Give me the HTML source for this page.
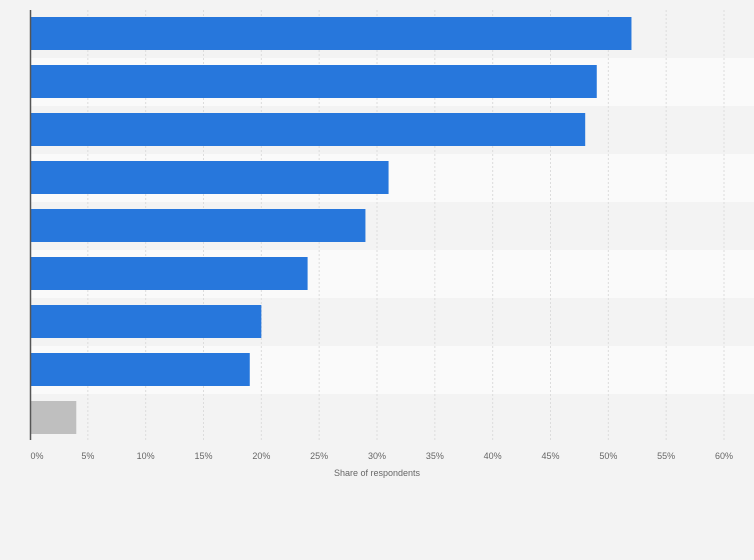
<!DOCTYPE html>
<html><head><meta charset="utf-8"><style>
body{margin:0;background:#f3f3f3;font-family:"Liberation Sans",sans-serif}
svg{display:block}
</style></head><body>
<svg width="754" height="560">
<g id="bands"></g><g id="grid"></g><g id="bars"></g><g id="ticks"></g>
<line x1="30.5" y1="10" x2="30.5" y2="440" stroke="#555" stroke-width="1.5"/>
<text x="377" y="476" text-anchor="middle" font-size="9" fill="#666">Share of respondents</text>
</svg>
<script>
const values=[52,49,48,31,29,24,20,19,4];
const colors=["#2777dc","#2777dc","#2777dc","#2777dc","#2777dc","#2777dc","#2777dc","#2777dc","#bfbfbf"];
const tickVals=[0,5,10,15,20,25,30,35,40,45,50,55,60];
const tickLabels=["0%","5%","10%","15%","20%","25%","30%","35%","40%","45%","50%","55%","60%"];
const NS="http://www.w3.org/2000/svg";
const x0=30,x1=724,yTop=10,pitch=48;
const xs=v=>x0+(v/60)*(x1-x0);
function mk(t,a,p){const e=document.createElementNS(NS,t);for(const k in a)e.setAttribute(k,a[k]);document.getElementById(p).appendChild(e);return e;}
values.forEach((v,i)=>{
 if(i%2==1){const b=mk('rect',{x:x0,y:yTop+i*pitch,width:754-x0,height:pitch,fill:'#fafafa'},'bands');
 
 }
});
tickVals.forEach((v,i)=>{
 if(v>0){const l=mk('line',{x1:xs(v),x2:xs(v),y1:yTop,y2:440,stroke:'#dcdcdc','stroke-dasharray':'2,2'},'grid');
 
 }
 const t=mk('text',{x:xs(v)+(v==0?7:0),y:459,'text-anchor':'middle','font-size':9,fill:'#666'},'ticks');
 t.textContent=tickLabels[i];
 
 
});
values.forEach((v,i)=>{
 const r=mk('rect',{x:x0+1,y:yTop+7+i*pitch,width:xs(v)-x0-1,height:33,fill:colors[i]},'bars');
 
 
});
</script>
</body></html>
